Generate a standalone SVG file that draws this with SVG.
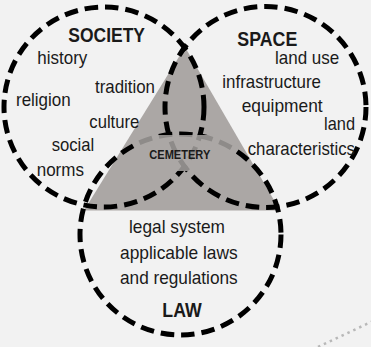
<svg xmlns="http://www.w3.org/2000/svg" width="371" height="347" viewBox="0 0 371 347">
<defs>
<style>
.ring{fill:none;stroke:#000;stroke-width:5;stroke-dasharray:13.5 7;}
.t{font-family:"Liberation Sans",Arial,sans-serif;font-size:18.5px;fill:#1a1a1a;}
.h{font-family:"Liberation Sans",Arial,sans-serif;font-size:19.5px;font-weight:bold;fill:#1a1a1a;}
.c{font-family:"Liberation Sans",Arial,sans-serif;font-size:13px;font-weight:bold;fill:#1a1a1a;}
</style>
<clipPath id="tri"><polygon points="185,47 84,210.5 280,210.5"/></clipPath>
</defs>
<rect width="371" height="347" fill="#f2f2f2"/>
<g id="cemetery-area"><polygon points="185,47 84,210.5 280,210.5" fill="#aba7a5"/></g>
<g id="society">
<circle class="ring" cx="104" cy="107" r="100"/>
<text class="h" x="68.3" y="41.7" textLength="76.7" lengthAdjust="spacingAndGlyphs">SOCIETY</text>
<text class="t" x="37.3" y="64.3" textLength="50" lengthAdjust="spacingAndGlyphs">history</text>
<text class="t" x="95" y="92.7" textLength="60" lengthAdjust="spacingAndGlyphs">tradition</text>
<text class="t" x="16" y="106" textLength="54.7" lengthAdjust="spacingAndGlyphs">religion</text>
<text class="t" x="89.3" y="127.7" textLength="50" lengthAdjust="spacingAndGlyphs">culture</text>
<text class="t" x="51.7" y="151" textLength="42.6" lengthAdjust="spacingAndGlyphs">social</text>
<text class="t" x="36.7" y="176" textLength="47.3" lengthAdjust="spacingAndGlyphs">norms</text>
</g>
<g id="space">
<circle class="ring" cx="265.5" cy="107" r="100.5"/>
<text class="h" x="237.3" y="46" textLength="60" lengthAdjust="spacingAndGlyphs">SPACE</text>
<text class="t" x="275" y="64.3" textLength="64.3" lengthAdjust="spacingAndGlyphs">land use</text>
<text class="t" x="222.3" y="88.3" textLength="98.7" lengthAdjust="spacingAndGlyphs">infrastructure</text>
<text class="t" x="241.7" y="111.7" textLength="81" lengthAdjust="spacingAndGlyphs">equipment</text>
<text class="t" x="324" y="130" textLength="31" lengthAdjust="spacingAndGlyphs">land</text>
<text class="t" x="247.7" y="155" textLength="107.3" lengthAdjust="spacingAndGlyphs">characteristics</text>
</g>
<g id="law">
<circle class="ring" cx="180.5" cy="234.5" r="100.5"/>
<text class="t" x="129" y="233.3" textLength="96" lengthAdjust="spacingAndGlyphs">legal system</text>
<text class="t" x="120" y="259" textLength="117.7" lengthAdjust="spacingAndGlyphs">applicable laws</text>
<text class="t" x="120" y="284" textLength="117.7" lengthAdjust="spacingAndGlyphs">and regulations</text>
<text class="h" x="162.3" y="316.7" textLength="39.4" lengthAdjust="spacingAndGlyphs">LAW</text>
</g>
<g id="cemetery">
<rect x="136" y="135" width="100" height="36" fill="#aba7a5" fill-opacity="0.83" clip-path="url(#tri)"/>
<text class="c" x="149.3" y="158.5" textLength="61" lengthAdjust="spacingAndGlyphs">CEMETERY</text>
</g>
<g id="connectors">
<line x1="318" y1="347" x2="372" y2="321.5" stroke="#b8b8b8" stroke-width="2.5" stroke-dasharray="2.5 4"/>
</g>
</svg>
